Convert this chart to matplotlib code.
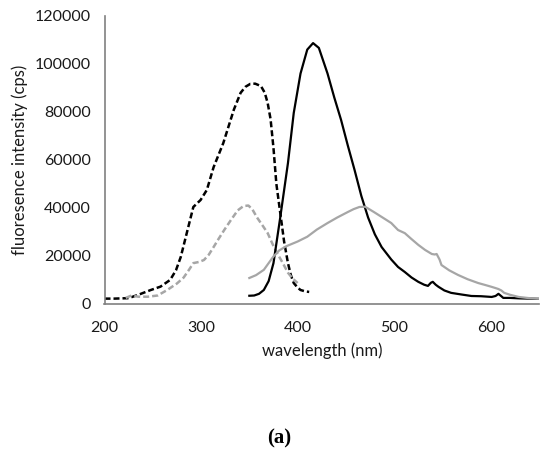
import numpy as np
import matplotlib
matplotlib.use("Agg")
import matplotlib.pyplot as plt

# excitation spectrum 1 (black dashed)
ex1_wl = [200, 210, 225, 235, 248, 258, 268, 274, 279, 286, 292, 299.5, 306, 313,
          323, 334, 341, 346, 351, 356, 362, 366, 369, 372, 375, 378, 382, 386,
          390, 393, 396, 400, 403, 408, 412]
ex1_int = [2200, 2200, 2400, 3800, 5800, 7200, 10000, 14000, 19600, 30800, 40400,
           43300, 47500, 57000, 67000, 81000, 88000, 90500, 91700, 91800, 90800,
           88000, 83700, 77000, 65000, 50000, 38000, 26000, 17000, 12000, 8700,
           6800, 5800, 5200, 5000]

# excitation spectrum 2 (grey dashed)
ex2_wl = [222, 228, 235, 245, 255, 265, 275, 282, 288, 292, 298, 303, 308, 313, 318,
          324, 331, 338, 344, 349, 353, 358, 364, 369, 374, 379, 384, 390, 395, 400]
ex2_int = [2500, 3500, 3000, 3000, 3500, 5800, 8500, 11000, 14500, 17000, 17500,
           18300, 20500, 23700, 27000, 30800, 35000, 39000, 40800, 41000, 39500,
           36000, 32500, 29500, 25000, 21000, 17500, 13000, 10500, 8700]

# emission spectrum 1 (black solid)
em1_wl = [350, 355, 360, 365, 370, 375, 382, 390, 396, 403, 410, 416, 422, 431,
          438, 445, 452, 459, 466, 473, 480, 487, 497, 504, 511, 518, 525, 531,
          535, 538, 540, 543, 546, 552, 559, 570, 580, 590, 601, 605, 608, 611,
          613, 620, 630, 640, 651]
em1_int = [3400, 3500, 4200, 5800, 9500, 17000, 36000, 58700, 79600, 96000, 106000,
           108700, 106700, 96000, 86000, 76700, 66000, 55800, 45000, 36000, 29000,
           23700, 18500, 15400, 13300, 11000, 9200, 8000, 7500, 8800, 9200, 8000,
           7100, 5600, 4600, 3900, 3300, 3200, 2900, 3300, 4200, 3200, 2500, 2500,
           2300, 2200, 2100]

# emission spectrum 2 (grey solid)
em2_wl = [350, 357, 365, 370, 375, 381, 388, 400, 410, 420, 431, 441, 452, 458,
          464, 470, 479, 490, 497, 504, 511, 518, 525, 532, 539, 542, 544, 547,
          549, 557, 566, 576, 587, 595, 601, 605, 608, 611, 614, 620, 629, 640, 651]
em2_int = [10800, 12000, 14200, 17000, 19800, 22300, 24000, 26000, 28000, 31000,
           33700, 36000, 38300, 39500, 40400, 40500, 38300, 35500, 33700, 30800,
           29500, 27000, 24600, 22500, 20800, 20600, 20800, 18500, 16200, 14000,
           12100, 10300, 8700, 7800, 7100, 6600, 6200, 5600, 4600, 3800, 2900,
           2400, 2100]

plt.rcParams['font.family'] = ['Lato', 'DejaVu Sans']

fig = plt.figure(figsize=(5.5, 4.57), dpi=100)
ax = fig.add_axes([0.19, 0.335, 0.79, 0.63])

ax.plot(ex1_wl, ex1_int, color='black', lw=1.8, dashes=[2.4, 1.2])
ax.plot(ex2_wl, ex2_int, color='#a6a6a6', lw=1.8, dashes=[2.4, 1.2])
ax.plot(em1_wl, em1_int, color='black', lw=1.6)
ax.plot(em2_wl, em2_int, color='#a6a6a6', lw=1.6)

ax.set_xlim(200, 650)
ax.set_ylim(0, 120000)
ax.set_xticks([200, 300, 400, 500, 600])
ax.set_yticks(np.arange(0, 120001, 20000))

for side in ['top', 'right']:
    ax.spines[side].set_visible(False)
for side in ['left', 'bottom']:
    ax.spines[side].set_color('#808080')
    ax.spines[side].set_linewidth(1.2)

ax.tick_params(axis='both', length=0, labelsize=11.5, colors='#1a1a1a')
ax.tick_params(axis='y', pad=10)
ax.tick_params(axis='x', pad=12)

ax.set_xlabel('wavelength (nm)', fontsize=12, color='#1a1a1a', labelpad=6)
ax.set_ylabel('fluoresence intensity (cps)', fontsize=12, color='#1a1a1a', labelpad=5)

fig.text(0.508, 1 - 438 / 457, '(a)', ha='center', va='center', fontsize=15,
         fontweight='bold', family='Liberation Serif')

fig.savefig('out.png', dpi=100)
